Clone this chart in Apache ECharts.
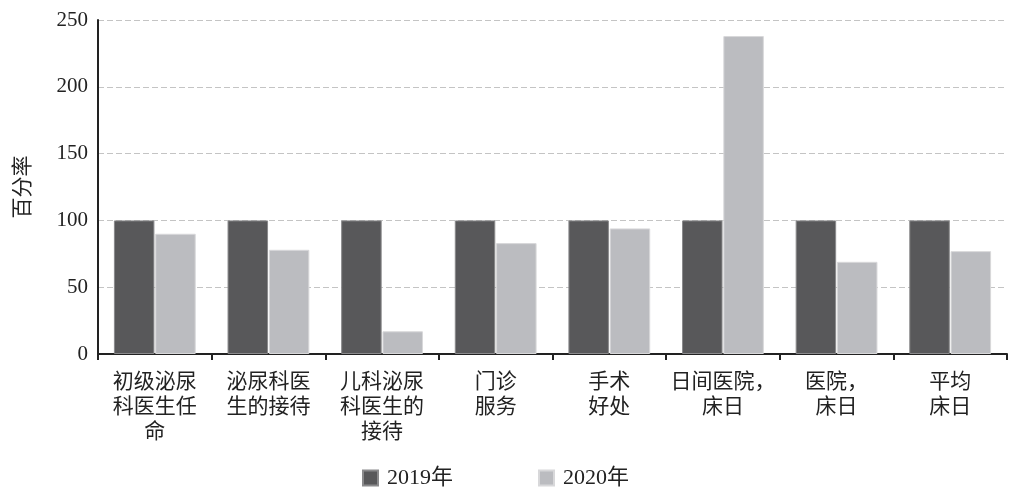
<!DOCTYPE html>
<html><head><meta charset="utf-8">
<script src="https://cdn.jsdelivr.net/npm/echarts@6/dist/echarts.min.js"></script>
<style>html,body{margin:0;padding:0;background:#fff}#c{width:1024px;height:496px}</style>
</head><body><div id="c"></div>
<script>
const categories = ["初级泌尿\n科医生任\n命", "泌尿科医\n生的接待", "儿科泌尿\n科医生的\n接待", "门诊\n服务", "手术\n好处", "日间医院，\n床日", "医院，\n床日", "平均\n床日"];
const values2019 = [100, 100, 100, 100, 100, 100, 100, 100];
const values2020 = [90, 78, 17, 83, 94, 238, 69, 77];
const seriesNames = ["2019年", "2020年"];
const yTicks = [0, 50, 100, 150, 200, 250];

const font = "'Liberation Serif','Noto Sans CJK SC',serif";
const chart = echarts.init(document.getElementById('c'));
chart.setOption({
  animation: false,
  grid: {left: 98, right: 17, top: 20, bottom: 142},
  legend: {
    bottom: 2, left: 357, itemGap: 85, itemWidth: 15, itemHeight: 15,
    icon: 'rect',
    textStyle: {fontFamily: font, fontSize: 22, color: '#222', padding: [0, 0, 0, 4]},
    data: seriesNames
  },
  xAxis: {
    type: 'category', data: categories,
    axisLine: {lineStyle: {color: '#222', width: 2}},
    axisTick: {show: true, length: 6, lineStyle: {color: '#222', width: 2}},
    axisLabel: {fontFamily: font, fontSize: 21, color: '#222', lineHeight: 25, interval: 0, margin: 16}
  },
  yAxis: {
    type: 'value', min: yTicks[0], max: yTicks[yTicks.length - 1], interval: 50,
    name: '百分率', nameLocation: 'middle', nameGap: 64,
    nameTextStyle: {fontFamily: font, fontSize: 21, color: '#222'},
    axisLine: {show: true, lineStyle: {color: '#222', width: 2}},
    axisTick: {show: false},
    axisLabel: {fontFamily: font, fontSize: 21, color: '#222', margin: 10},
    splitLine: {show: true, lineStyle: {color: '#c4c4c4', type: [6, 3], width: 1}}
  },
  series: [
    {name: seriesNames[0], type: 'bar', data: values2019, barCategoryGap: '28%', barGap: '2%',
     itemStyle: {color: '#58585a', borderColor: '#8a8a8c', borderWidth: 1}},
    {name: seriesNames[1], type: 'bar', data: values2020,
     itemStyle: {color: '#bbbcc0', borderColor: '#d8d8da', borderWidth: 1}}
  ]
});
</script></body></html>
